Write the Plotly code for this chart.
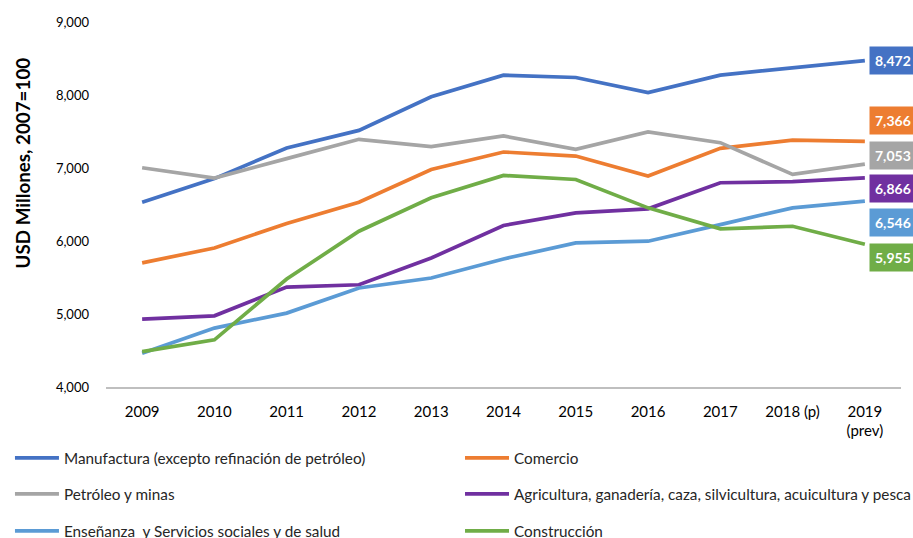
import plotly.graph_objects as go

years = ["2009", "2010", "2011", "2012", "2013", "2014", "2015", "2016", "2017", "2018 (p)", "2019<br>(prev)"]

manufactura = [6530, 6855, 7275, 7515, 7975, 8272, 8240, 8034, 8272, 8378, 8472]
comercio = [5700, 5905, 6240, 6532, 6980, 7219, 7164, 6889, 7269, 7383, 7366]
petroleo = [7004, 6862, 7128, 7393, 7292, 7439, 7255, 7494, 7347, 6912, 7053]
agricultura = [4930, 4975, 5369, 5401, 5767, 6212, 6386, 6441, 6798, 6812, 6866]
ensenanza = [4463, 4807, 5012, 5357, 5493, 5754, 5974, 5997, 6225, 6454, 6546]
construccion = [4485, 4646, 5479, 6134, 6592, 6898, 6843, 6454, 6166, 6202, 5955]

names = [
    "Manufactura (excepto refinación de petróleo)",
    "Comercio",
    "Petróleo y minas",
    "Agricultura, ganadería, caza, silvicultura, acuicultura y pesca",
    "Enseñanza  y Servicios sociales y de salud",
    "Construcción",
]
values = [manufactura, comercio, petroleo, agricultura, ensenanza, construccion]
colors = ["#4472C4", "#ED7D31", "#A5A5A5", "#7030A0", "#5B9BD5", "#70AD47"]
label_shift = [0, 21, 9, -11, -21, -13]

FONT = "Lato"
fig = go.Figure()
annotations = []
legends = {}
col_x = [-0.1208, 0.4453]
row_y = [-0.1945, -0.2932, -0.3945]
for i, (name, vals, color, ysh) in enumerate(zip(names, values, colors, label_shift)):
    key = "legend" if i == 0 else f"legend{i+1}"
    legends[key] = dict(x=col_x[i % 2], y=row_y[i // 2], xanchor="left", yanchor="middle",
                        orientation="h", itemwidth=44, visible=True,
                        font=dict(family=FONT, size=15.3, color="#262626"),
                        bgcolor="rgba(0,0,0,0)")
    fig.add_trace(go.Scatter(x=years, y=vals, mode="lines", name=name, showlegend=True,
                             line=dict(color=color, width=3.7), legend=key))
    annotations.append(dict(x=years[-1], y=vals[-1], xref="x", yref="y",
                            text=f"<b>{vals[-1]:,}</b>", showarrow=False,
                            xanchor="left", yanchor="middle", xshift=4, yshift=ysh,
                            bgcolor=color, borderpad=5,
                            font=dict(family=FONT, size=14, color="white")))

annotations.append(dict(text="<b>USD Millones, 2007=100</b>", textangle=-90,
                        xref="paper", yref="paper", x=-0.105, y=0.614,
                        xanchor="center", yanchor="middle", showarrow=False,
                        font=dict(family=FONT, size=18.8, color="#000000")))

fig.update_layout(
    width=913, height=538,
    showlegend=True,
    margin=dict(l=106, r=12, t=22, b=151, autoexpand=False),
    plot_bgcolor="white", paper_bgcolor="white",
    font=dict(family=FONT, color="#262626"),
    annotations=annotations,
    xaxis=dict(range=[-0.5, 10.5], showline=True, linecolor="#BFBFBF", linewidth=1.5,
               showgrid=False, ticks="", ticklabelstandoff=10,
               tickfont=dict(family=FONT, size=15, color="#000000")),
    yaxis=dict(range=[4000, 9000], dtick=1000, tickformat=",", showgrid=False,
               zeroline=False, showline=False, ticks="", ticklabelstandoff=16,
               tickfont=dict(family=FONT, size=13, color="#000000")),
    **legends,
)

fig.write_html(
    "out.html",
    config={"displayModeBar": False},
    post_script="document.body.style.margin='0';document.body.style.overflow='hidden';",
)
